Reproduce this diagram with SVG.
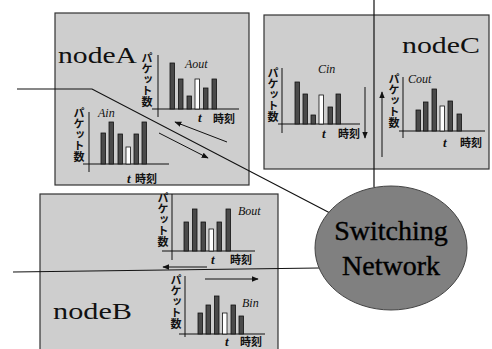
<svg xmlns="http://www.w3.org/2000/svg" width="492" height="349" viewBox="0 0 492 349">
<defs>
<marker id="ah" viewBox="0 0 10 10" refX="9" refY="5" markerWidth="7" markerHeight="7" orient="auto" markerUnits="userSpaceOnUse">
<path d="M0,1 L10,5 L0,9 z" fill="#111"/>
</marker>
<style>
.box{fill:#cecece;stroke:#333;stroke-width:1.2}
.ax{stroke:#111;stroke-width:1;fill:none}
.bar{fill:#4a4a4a;stroke:#111;stroke-width:0.8}
.wbar{fill:#fff;stroke:#111;stroke-width:0.8}
.nl{font-family:"Liberation Serif",serif;font-size:23px;fill:#111}
.sl{font-family:"Liberation Serif",serif;font-style:italic;font-size:12px;fill:#111}
.tt{font-family:"Liberation Serif",serif;font-style:italic;font-weight:bold;font-size:13px;fill:#111}
.jp{font-family:"Noto Sans CJK JP",sans-serif;font-weight:bold;font-size:11px;fill:#111}
.vt{font-family:"Noto Sans CJK JP",sans-serif;font-weight:bold;font-size:11px;fill:#111;writing-mode:vertical-rl}
.arr{stroke:#111;stroke-width:1;fill:none;marker-end:url(#ah)}
.con{stroke:#111;stroke-width:1.2;fill:none}
.sw{font-family:"Liberation Serif",serif;font-size:28px;text-anchor:middle}
</style>
</defs>
<rect width="492" height="349" fill="#fff"/>

<g id="nodeA">
<rect class="box" x="55" y="13" width="194" height="172"/>
<text class="nl" x="58" y="63" textLength="79" lengthAdjust="spacingAndGlyphs">nodeA</text>
<text class="vt" x="147" y="52">パケット数</text>
<path class="ax" d="M158,55 V117 M152,109 H239"/>
<rect class="bar" x="170" y="63" width="4.5" height="46"/>
<rect class="bar" x="178.5" y="79" width="4.5" height="30"/>
<rect class="bar" x="187" y="96" width="4.5" height="13"/>
<rect class="wbar" x="195" y="79" width="4.5" height="30"/>
<rect class="bar" x="203.5" y="88" width="4.5" height="21"/>
<rect class="bar" x="212" y="79" width="4.5" height="30"/>
<text class="sl" x="185" y="68">Aout</text>
<text class="tt" x="198" y="122">t</text>
<text class="jp" x="213" y="123">時刻</text>
<text class="vt" x="79" y="107">パケット数</text>
<path class="ax" d="M89,112 V172 M83,164 H169"/>
<rect class="bar" x="101" y="133" width="4.5" height="31"/>
<rect class="bar" x="109" y="122" width="4.5" height="42"/>
<rect class="bar" x="118" y="134" width="4.5" height="30"/>
<rect class="wbar" x="126" y="147" width="4.5" height="17"/>
<rect class="bar" x="134" y="134" width="4.5" height="30"/>
<rect class="bar" x="142" y="122" width="4.5" height="42"/>
<text class="sl" x="98" y="117">Ain</text>
<text class="tt" x="127" y="183">t</text>
<text class="jp" x="135" y="183">時刻</text>
<line class="arr" x1="227" y1="142" x2="175" y2="122"/>
<line class="arr" x1="159" y1="133" x2="208" y2="158"/>
</g>

<g id="nodeC">
<rect class="box" x="264" y="15" width="225" height="154"/>
<text class="nl" x="402" y="53" textLength="78" lengthAdjust="spacingAndGlyphs">nodeC</text>
<text class="vt" x="273" y="67">パケット数</text>
<path class="ax" d="M282,68 V133 M278,124 H360"/>
<rect class="bar" x="295" y="82" width="4.5" height="42"/>
<rect class="bar" x="303" y="94" width="4.5" height="30"/>
<rect class="bar" x="311" y="115" width="4.5" height="9"/>
<rect class="wbar" x="319" y="95" width="4.5" height="29"/>
<rect class="bar" x="328" y="107" width="4.5" height="17"/>
<rect class="bar" x="336" y="94" width="4.5" height="30"/>
<text class="sl" x="318" y="73">Cin</text>
<text class="tt" x="322" y="138">t</text>
<text class="jp" x="338" y="138">時刻</text>
<line class="arr" x1="365" y1="87" x2="365" y2="138"/>
<text class="vt" x="394" y="73">パケット数</text>
<path class="ax" d="M403,77 V138 M399,131 H485"/>
<rect class="bar" x="416" y="110" width="4.5" height="21"/>
<rect class="bar" x="423.5" y="102" width="4.5" height="29"/>
<rect class="bar" x="432" y="89" width="4.5" height="42"/>
<rect class="wbar" x="440" y="106" width="4.5" height="25"/>
<rect class="bar" x="448" y="101" width="4.5" height="30"/>
<rect class="bar" x="457" y="114" width="4.5" height="17"/>
<text class="sl" x="408" y="83">Cout</text>
<text class="tt" x="443" y="147">t</text>
<text class="jp" x="460" y="147">時刻</text>
<line class="arr" x1="382" y1="157" x2="382" y2="92"/>
</g>

<g id="nodeB">
<rect class="box" x="40" y="194" width="238" height="162"/>
<text class="nl" x="53" y="319" textLength="79" lengthAdjust="spacingAndGlyphs">nodeB</text>
<text class="vt" x="163" y="192">パケット数</text>
<path class="ax" d="M172,194 V260 M162,251 H255"/>
<rect class="bar" x="184" y="222" width="4.5" height="29"/>
<rect class="bar" x="192.5" y="209" width="4.5" height="42"/>
<rect class="bar" x="201" y="222" width="4.5" height="29"/>
<rect class="wbar" x="209" y="229" width="4.5" height="22"/>
<rect class="bar" x="217" y="222" width="4.5" height="29"/>
<rect class="bar" x="226" y="209" width="4.5" height="42"/>
<text class="sl" x="238" y="215">Bout</text>
<text class="tt" x="211" y="264">t</text>
<text class="jp" x="230" y="264">時刻</text>
<line class="arr" x1="207" y1="267" x2="163" y2="267"/>
<text class="vt" x="176" y="274">パケット数</text>
<path class="ax" d="M185,276 V337 M179,334 H265"/>
<rect class="bar" x="198" y="313" width="4.5" height="21"/>
<rect class="bar" x="206" y="305" width="4.5" height="29"/>
<rect class="bar" x="214.5" y="296" width="4.5" height="38"/>
<rect class="wbar" x="222.5" y="313" width="4.5" height="21"/>
<rect class="bar" x="231" y="305" width="4.5" height="29"/>
<rect class="bar" x="239" y="316" width="4.5" height="18"/>
<text class="sl" x="242" y="307">Bin</text>
<text class="tt" x="225" y="346">t</text>
<text class="jp" x="240" y="346">時刻</text>
<line class="arr" x1="205" y1="279" x2="258" y2="279"/>
</g>

<g id="connectors">
<polyline class="con" points="17,89 92,89 330,213"/>
<line class="con" x1="374" y1="0" x2="374" y2="187"/>
<line class="con" x1="13" y1="272" x2="319" y2="268"/>
</g>

<g id="switching">
<ellipse cx="391" cy="248" rx="76" ry="62" fill="#808080" stroke="#444" stroke-width="1"/>
<text class="sw" x="391" y="240" fill="#000" stroke="#000" stroke-width="0.4">Switching</text>
<text class="sw" x="391" y="275" fill="#000" stroke="#000" stroke-width="0.4">Network</text>
</g>
</svg>
